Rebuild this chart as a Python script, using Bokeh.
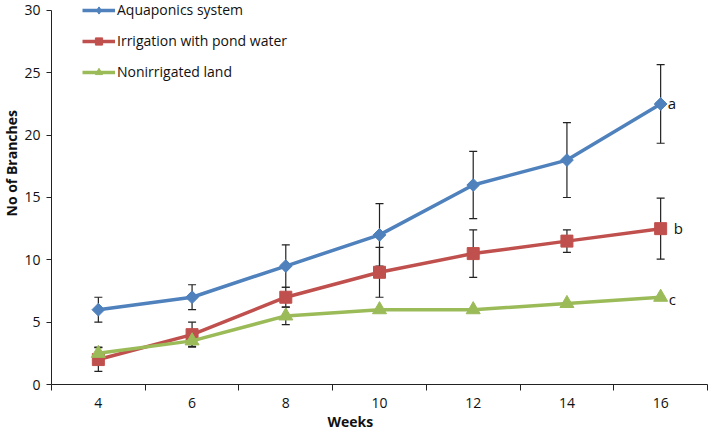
import math
from bokeh.plotting import figure
from bokeh.models import Range1d, FixedTicker, Whisker, ColumnDataSource, Label, Legend, Title
from bokeh.embed import file_html
from bokeh.resources import INLINE

weeks = [4, 6, 8, 10, 12, 14, 16]
aqua = [6, 7, 9.5, 12, 16, 18, 22.5]
aqua_err = [1.0, 1.0, 1.7, 2.5, 2.7, 3.0, 3.15]
pond = [2, 4, 7, 9, 10.5, 11.5, 12.5]
pond_err = [0.95, 1.0, 0.8, 2.0, 1.9, 0.9, 2.45]
nonirr = [2.5, 3.5, 5.5, 6, 6, 6.5, 7]
nonirr_err = [0.5, 0.45, 0.7, 0, 0, 0, 0]
letters = ["a", "b", "c"]
names = ["Aquaponics system", "Irrigation with pond water", "Nonirrigated land"]
y_ticks = [0, 5, 10, 15, 20, 25, 30]

colors = ["#4F81BD", "#C0504D", "#9BBB59"]
markers = ["square", "square", "triangle"]
legend_markers = ["diamond", "square", "triangle"]
angles = [math.pi / 4, 0, 0]
msizes = [9, 12, 14]
legend_sizes = [15, 12, 14]
letter_dx = [7, 13, 8]
letter_dy = [1, 1, -2]

FONT = "Open Sans"
TXT = "#111111"
AX = "#222222"

p = figure(width=709, height=431, output_backend="svg", toolbar_location=None,
           x_range=Range1d(3, 17), y_range=Range1d(0, 30.8),
           min_border_top=0, min_border_right=2, min_border_left=51, min_border_bottom=46)
p.grid.visible = False
p.outline_line_color = None

p.yaxis.ticker = FixedTicker(ticks=y_ticks)
p.yaxis.bounds = (0, 30)
p.yaxis.minor_tick_line_color = None
p.yaxis.major_tick_in = 0
p.yaxis.major_tick_out = 5
p.yaxis.major_label_standoff = 6
p.xaxis.ticker = FixedTicker(ticks=weeks, minor_ticks=[3, 5, 7, 9, 11, 13, 15, 17])
p.xaxis.major_tick_in = 0
p.xaxis.major_tick_out = 0
p.xaxis.minor_tick_in = 0
p.xaxis.minor_tick_out = 6
p.xaxis.minor_tick_line_color = AX
p.xaxis.major_label_standoff = 7
for ax in (p.xaxis, p.yaxis):
    ax.axis_line_color = AX
    ax.major_tick_line_color = AX
    ax.major_label_text_font = FONT
    ax.major_label_text_font_size = "14px"
    ax.major_label_text_color = TXT

# axis titles, placed like the original (not centred on the frame)
p.add_layout(Title(text="No of Branches", align="left", offset=168, standoff=0,
                   vertical_align="middle", text_font=FONT, text_font_size="14px",
                   text_font_style="bold", text_color=TXT), "left")
p.add_layout(Title(text="Weeks", align="left", offset=276, standoff=0,
                   vertical_align="middle", text_font=FONT, text_font_size="14px",
                   text_font_style="bold", text_color=TXT), "below")

series = [(aqua, aqua_err), (pond, pond_err), (nonirr, nonirr_err)]
for vals, errs in series:
    src = ColumnDataSource(dict(x=weeks,
                                lo=[v - e for v, e in zip(vals, errs)],
                                hi=[v + e for v, e in zip(vals, errs)]))
    w = Whisker(source=src, base="x", lower="lo", upper="hi",
                line_color=AX, line_width=1.2)
    for h in (w.upper_head, w.lower_head):
        h.size = 8
        h.line_color = AX
        h.line_width = 1.2
    p.add_layout(w)

items = []
for i, (vals, errs) in enumerate(series):
    src = ColumnDataSource(dict(x=weeks, y=vals))
    r1 = p.line("x", "y", source=src, line_color=colors[i], line_width=3.5)
    r2 = p.scatter("x", "y", source=src, marker=markers[i], size=msizes[i], angle=angles[i],
                   fill_color=colors[i], line_color=colors[i])
    # hidden renderer used only for the legend swatch
    r3 = p.scatter("x", "y", source=src, marker=legend_markers[i], size=legend_sizes[i],
                   fill_color=colors[i], line_color=colors[i], visible=False)
    items.append((names[i], [r1, r3]))
    p.add_layout(Label(x=weeks[-1], y=vals[-1], text=letters[i],
                       x_offset=letter_dx[i], y_offset=letter_dy[i],
                       text_baseline="middle", text_font=FONT, text_font_size="15px",
                       text_color=TXT))

legend = Legend(items=items, location=(31, 303), orientation="vertical",
                glyph_width=33, glyph_height=18, label_height=18, spacing=12,
                label_standoff=2, padding=0, margin=0,
                background_fill_alpha=0, border_line_color=None,
                label_text_font=FONT, label_text_font_size="14px", label_text_color=TXT)
p.add_layout(legend, "center")

open("out.html", "w").write(file_html(p, INLINE))
